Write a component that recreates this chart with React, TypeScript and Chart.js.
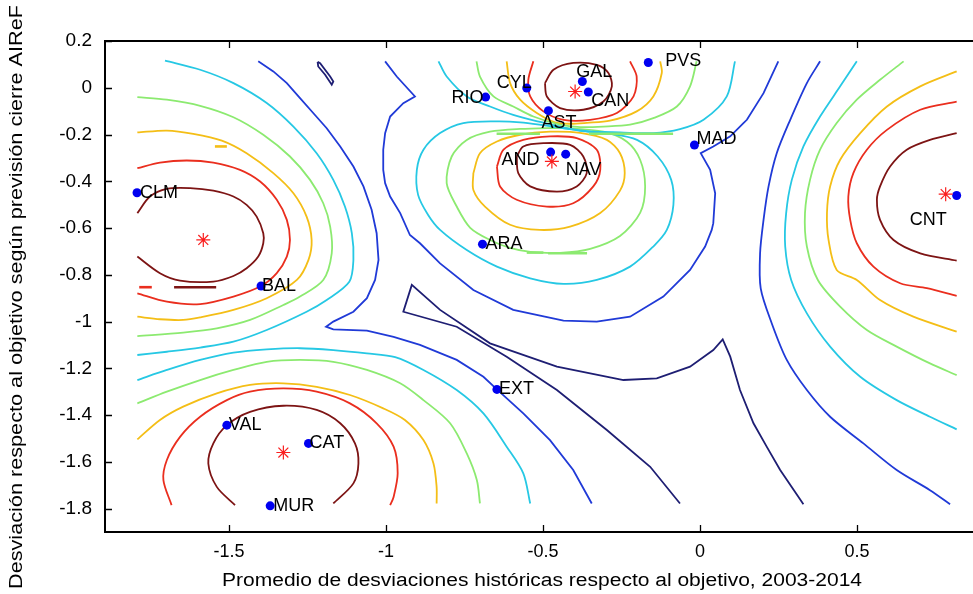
import React, { useEffect, useRef } from "react";
import { Chart, registerables } from "chart.js";

Chart.register(...registerables);

const FONT = '"Liberation Sans", Arial, Helvetica, sans-serif';

// ---------- axes ----------
const X_TICKS = [-1.5, -1, -0.5, 0, 0.5];
const Y_TICKS = [0.2, 0, -0.2, -0.4, -0.6, -0.8, -1, -1.2, -1.4, -1.6, -1.8];
const X_MIN = -1.895;
const X_MAX = 0.869;
const Y_MIN = -1.9;
const Y_MAX = 0.2;
const X_TITLE = "Promedio de desviaciones históricas respecto al objetivo, 2003-2014";
const Y_TITLE = "Desviación respecto al objetivo según previsión cierre AIReF";

// ---------- regions (blue dots) ----------
const REGIONS = ["CLM", "BAL", "VAL", "CAT", "MUR", "EXT", "ARA", "RIO", "CYL", "AST", "GAL", "CAN", "PVS", "AND", "NAV", "MAD", "CNT"];
const REGION_X = [-1.793, -1.398, -1.507, -1.247, -1.369, -0.647, -0.693, -0.683, -0.552, -0.483, -0.375, -0.356, -0.165, -0.476, -0.428, -0.018, 0.817];
const REGION_Y = [-0.449, -0.848, -1.443, -1.521, -1.788, -1.29, -0.669, -0.04, -0.001, -0.098, 0.027, -0.018, 0.108, -0.275, -0.284, -0.245, -0.461];

// ---------- cluster centres (red stars) ----------
const CENTER_X = [-1.582, -1.327, -0.398, -0.472, 0.782];
const CENTER_Y = [-0.651, -1.56, -0.016, -0.315, -0.455];

// ---------- contour lines (x, y pairs) ----------
const NAVY_LOOP = [[-1.218, 0.111], [-1.21, 0.105], [-1.178, 0.048], [-1.168, 0.027], [-1.173, 0.013], [-1.194, 0.056], [-1.216, 0.091], [-1.218, 0.111]];
const NAVY_WEDGE = [[-0.064, -1.778], [-0.159, -1.621], [-0.297, -1.464], [-0.456, -1.293], [-0.616, -1.15], [-0.775, -1.022], [-0.945, -0.958], [-0.918, -0.843], [-0.828, -0.95], [-0.669, -1.093], [-0.456, -1.193], [-0.244, -1.25], [-0.138, -1.243], [-0.032, -1.193], [0.042, -1.122], [0.072, -1.076], [0.096, -1.15], [0.127, -1.293], [0.17, -1.435], [0.212, -1.535], [0.255, -1.635], [0.329, -1.781]];

const BLUE_LEFT = [[-1.407, 0.113], [-1.359, 0.07], [-1.316, 0.02], [-1.274, -0.044], [-1.232, -0.108], [-1.189, -0.173], [-1.146, -0.251], [-1.104, -0.337], [-1.072, -0.422], [-1.046, -0.522], [-1.03, -0.622], [-1.024, -0.736], [-1.035, -0.822], [-1.061, -0.9], [-1.104, -0.958], [-1.168, -1.0], [-1.191, -1.022], [-1.168, -1.033], [-1.061, -1.039], [-0.976, -1.065], [-0.892, -1.1], [-0.775, -1.164], [-0.69, -1.236], [-0.647, -1.29], [-0.563, -1.393], [-0.478, -1.507], [-0.404, -1.635], [-0.345, -1.778]];
const BLUE_MID = [[-1.003, 0.113], [-0.966, 0.048], [-0.908, -0.037], [-0.945, -0.066], [-0.987, -0.123], [-1.003, -0.194], [-1.009, -0.265], [-1.009, -0.351], [-1.003, -0.408], [-0.987, -0.465], [-0.955, -0.536], [-0.924, -0.63], [-0.892, -0.665], [-0.828, -0.751], [-0.722, -0.865], [-0.595, -0.95], [-0.435, -0.996], [-0.329, -1.0], [-0.223, -0.979], [-0.117, -0.893], [-0.032, -0.779], [0.016, -0.679], [0.037, -0.608], [0.042, -0.579], [0.048, -0.451], [0.032, -0.351], [0.002, -0.28], [0.042, -0.251], [0.096, -0.208], [0.138, -0.151], [0.149, -0.137], [0.202, -0.023], [0.249, 0.113]];
const BLUE_RIGHT = [[0.382, 0.113], [0.34, 0.02], [0.287, -0.137], [0.244, -0.28], [0.218, -0.422], [0.202, -0.565], [0.191, -0.708], [0.193, -0.858], [0.228, -1.007], [0.276, -1.164], [0.34, -1.293], [0.414, -1.407], [0.52, -1.521], [0.626, -1.635], [0.732, -1.721], [0.796, -1.781]];

const CYAN_LEFT = [[-1.704, 0.116], [-1.592, 0.077], [-1.486, 0.02], [-1.38, -0.065], [-1.295, -0.166], [-1.221, -0.28], [-1.168, -0.394], [-1.131, -0.508], [-1.109, -0.622], [-1.104, -0.736], [-1.117, -0.83], [-1.189, -0.908], [-1.253, -0.958], [-1.38, -1.036], [-1.486, -1.086], [-1.592, -1.111], [-1.698, -1.129], [-1.792, -1.143]];
const CYAN_LOWER = [[-1.792, -1.25], [-1.698, -1.207], [-1.592, -1.164], [-1.486, -1.133], [-1.38, -1.119], [-1.274, -1.114], [-1.168, -1.122], [-1.061, -1.136], [-0.971, -1.152], [-0.881, -1.207], [-0.775, -1.293], [-0.69, -1.393], [-0.616, -1.535], [-0.563, -1.649], [-0.541, -1.778]];
const CYAN_TOP = [[-0.833, 0.113], [-0.807, 0.048], [-0.743, -0.037], [-0.669, -0.08], [-0.595, -0.116], [-0.51, -0.146], [-0.414, -0.176], [-0.35, -0.187], [-0.255, -0.191], [-0.149, -0.194], [-0.064, -0.177], [0.011, -0.137], [0.085, -0.037], [0.111, 0.113]];
const CYAN_MID = [[-0.484, -0.163], [-0.573, -0.148], [-0.647, -0.144], [-0.754, -0.151], [-0.828, -0.194], [-0.881, -0.265], [-0.902, -0.351], [-0.898, -0.458], [-0.866, -0.544], [-0.828, -0.608], [-0.743, -0.694], [-0.647, -0.765], [-0.541, -0.815], [-0.435, -0.839], [-0.329, -0.822], [-0.223, -0.765], [-0.149, -0.679], [-0.106, -0.608], [-0.085, -0.501], [-0.092, -0.394], [-0.135, -0.294], [-0.201, -0.223], [-0.287, -0.197], [-0.382, -0.184], [-0.484, -0.163]];
const CYAN_RIGHT = [[0.499, 0.113], [0.446, 0.006], [0.382, -0.123], [0.329, -0.251], [0.292, -0.394], [0.274, -0.536], [0.271, -0.679], [0.29, -0.822], [0.34, -0.965], [0.414, -1.107], [0.51, -1.236], [0.626, -1.336], [0.732, -1.407], [0.817, -1.461]];

const GREEN_LEFT = [[-1.792, -0.04], [-1.698, -0.051], [-1.592, -0.077], [-1.486, -0.126], [-1.391, -0.201], [-1.306, -0.294], [-1.242, -0.394], [-1.2, -0.494], [-1.178, -0.594], [-1.173, -0.708], [-1.2, -0.822], [-1.274, -0.893], [-1.327, -0.929], [-1.433, -0.993], [-1.539, -1.029], [-1.646, -1.047], [-1.792, -1.062]];
const GREEN_LOWER = [[-1.792, -1.35], [-1.698, -1.3], [-1.592, -1.25], [-1.486, -1.207], [-1.38, -1.172], [-1.274, -1.164], [-1.168, -1.172], [-1.061, -1.207], [-0.955, -1.264], [-0.881, -1.336], [-0.796, -1.435], [-0.743, -1.564], [-0.711, -1.678], [-0.701, -1.778]];
const GREEN_TOP = [[-0.712, 0.113], [-0.701, 0.048], [-0.658, -0.037], [-0.595, -0.08], [-0.531, -0.123], [-0.446, -0.158], [-0.382, -0.168], [-0.308, -0.166], [-0.223, -0.158], [-0.149, -0.13], [-0.074, -0.08], [-0.032, 0.006], [-0.011, 0.113]];
const GREEN_MID = [[-0.446, -0.171], [-0.573, -0.176], [-0.669, -0.188], [-0.743, -0.223], [-0.791, -0.294], [-0.807, -0.408], [-0.775, -0.508], [-0.732, -0.599], [-0.669, -0.651], [-0.605, -0.685], [-0.541, -0.702], [-0.446, -0.706], [-0.35, -0.689], [-0.255, -0.634], [-0.191, -0.535], [-0.175, -0.422], [-0.191, -0.308], [-0.233, -0.231], [-0.308, -0.188], [-0.446, -0.171]];
const GREEN_RIGHT = [[0.648, 0.113], [0.573, 0.034], [0.499, -0.051], [0.435, -0.151], [0.382, -0.265], [0.35, -0.394], [0.334, -0.536], [0.34, -0.679], [0.375, -0.822], [0.446, -0.936], [0.531, -1.036], [0.626, -1.107], [0.732, -1.179], [0.817, -1.229]];

const GOLD_LEFT = [[-1.792, -0.191], [-1.698, -0.183], [-1.614, -0.197], [-1.523, -0.226], [-1.444, -0.28], [-1.359, -0.365], [-1.295, -0.451], [-1.253, -0.551], [-1.237, -0.651], [-1.247, -0.736], [-1.284, -0.822], [-1.38, -0.9], [-1.486, -0.95], [-1.592, -0.982], [-1.646, -0.993], [-1.72, -0.99], [-1.792, -0.979]];
const GOLD_LOWER = [[-1.792, -1.504], [-1.72, -1.421], [-1.646, -1.364], [-1.539, -1.307], [-1.433, -1.271], [-1.327, -1.264], [-1.221, -1.279], [-1.115, -1.314], [-1.009, -1.371], [-0.94, -1.421], [-0.881, -1.507], [-0.849, -1.607], [-0.839, -1.707], [-0.839, -1.778]];
const GOLD_TOP = [[-0.616, 0.113], [-0.605, 0.02], [-0.573, -0.051], [-0.52, -0.108], [-0.462, -0.148], [-0.414, -0.154], [-0.361, -0.15], [-0.287, -0.141], [-0.202, -0.101], [-0.149, -0.037], [-0.122, 0.063], [-0.127, 0.113]];
const GOLD_MID = [[-0.722, -0.365], [-0.701, -0.28], [-0.647, -0.23], [-0.573, -0.201], [-0.478, -0.188], [-0.382, -0.193], [-0.297, -0.223], [-0.255, -0.28], [-0.24, -0.365], [-0.255, -0.44], [-0.318, -0.536], [-0.414, -0.594], [-0.51, -0.608], [-0.605, -0.586], [-0.685, -0.508], [-0.722, -0.437], [-0.722, -0.365]];
const GOLD_RIGHT = [[0.817, 0.07], [0.701, 0.006], [0.595, -0.08], [0.51, -0.194], [0.446, -0.308], [0.414, -0.422], [0.404, -0.536], [0.409, -0.651], [0.435, -0.779], [0.499, -0.822], [0.573, -0.908], [0.679, -0.979], [0.817, -1.043]];

const RED_LEFT = [[-1.792, -0.344], [-1.72, -0.32], [-1.635, -0.311], [-1.55, -0.32], [-1.465, -0.351], [-1.401, -0.401], [-1.348, -0.479], [-1.316, -0.565], [-1.306, -0.651], [-1.316, -0.722], [-1.348, -0.793], [-1.398, -0.848], [-1.486, -0.893], [-1.592, -0.925], [-1.698, -0.915], [-1.792, -0.879]];
const RED_LOWER = [[-1.683, -1.785], [-1.709, -1.678], [-1.698, -1.592], [-1.656, -1.493], [-1.592, -1.407], [-1.507, -1.336], [-1.433, -1.3], [-1.327, -1.286], [-1.221, -1.3], [-1.115, -1.35], [-1.03, -1.435], [-0.976, -1.535], [-0.963, -1.649], [-0.976, -1.75], [-0.987, -1.785]];
const RED_TOP = [[-0.531, 0.113], [-0.547, 0.034], [-0.541, -0.037], [-0.499, -0.101], [-0.435, -0.137], [-0.35, -0.137], [-0.265, -0.108], [-0.212, -0.037], [-0.202, 0.048], [-0.223, 0.113]];
const RED_MID = [[-0.647, -0.337], [-0.626, -0.265], [-0.563, -0.223], [-0.478, -0.208], [-0.393, -0.215], [-0.329, -0.265], [-0.318, -0.351], [-0.34, -0.422], [-0.404, -0.494], [-0.488, -0.508], [-0.584, -0.479], [-0.637, -0.422], [-0.647, -0.337]];
const RED_RIGHT = [[0.817, -0.059], [0.701, -0.094], [0.595, -0.18], [0.531, -0.265], [0.488, -0.365], [0.472, -0.465], [0.478, -0.565], [0.499, -0.665], [0.552, -0.765], [0.637, -0.836], [0.722, -0.857], [0.817, -0.89]];

const DARK_LEFT = [[-1.792, -0.536], [-1.752, -0.465], [-1.698, -0.432], [-1.624, -0.429], [-1.55, -0.44], [-1.486, -0.465], [-1.444, -0.501], [-1.412, -0.551], [-1.391, -0.622], [-1.391, -0.665], [-1.407, -0.722], [-1.444, -0.772], [-1.486, -0.805], [-1.55, -0.829], [-1.656, -0.825], [-1.72, -0.793], [-1.792, -0.722]];
const DARK_LOWER = [[-1.481, -1.785], [-1.539, -1.707], [-1.566, -1.607], [-1.55, -1.521], [-1.507, -1.443], [-1.433, -1.386], [-1.327, -1.36], [-1.221, -1.378], [-1.146, -1.435], [-1.099, -1.521], [-1.088, -1.607], [-1.104, -1.692], [-1.168, -1.778]];
const DARK_TOP = [[-0.494, 0.02], [-0.467, 0.077], [-0.404, 0.106], [-0.329, 0.098], [-0.292, 0.063], [-0.281, 0.006], [-0.308, -0.059], [-0.372, -0.094], [-0.446, -0.087], [-0.488, -0.037], [-0.494, 0.02]];
const DARK_MID = [[-0.584, -0.294], [-0.563, -0.251], [-0.499, -0.237], [-0.414, -0.244], [-0.372, -0.294], [-0.361, -0.365], [-0.393, -0.422], [-0.456, -0.444], [-0.541, -0.422], [-0.579, -0.365], [-0.584, -0.294]];
const DARK_RIGHT = [[0.817, -0.194], [0.732, -0.223], [0.658, -0.265], [0.605, -0.337], [0.573, -0.422], [0.563, -0.479], [0.573, -0.565], [0.616, -0.651], [0.701, -0.708], [0.817, -0.739]];

// short straight fragments of the contour plot
const FRAG_DARK = [[-1.675, -0.853], [-1.541, -0.853]];
const FRAG_RED = [[-1.786, -0.853], [-1.746, -0.853]];
const FRAG_GOLD = [[-1.545, -0.251], [-1.507, -0.251]];
const FRAG_GREEN_A = [[-0.648, -0.197], [-0.51, -0.197]];
const FRAG_GREEN_B = [[-0.354, -0.197], [-0.086, -0.197]];
const FRAG_GREEN_C = [[-0.552, -0.705], [-0.499, -0.705]];
const FRAG_GREEN_D = [[-0.484, -0.708], [-0.36, -0.708]];

// ---------- styles ----------
const COLORS: Record<string, string> = {
  navy: "rgb(30,30,115)",
  blue: "rgb(32,58,215)",
  cyan: "rgb(38,200,228)",
  green: "rgb(140,234,112)",
  gold: "rgb(244,190,22)",
  red: "rgb(234,46,30)",
  dark: "rgb(125,20,20)",
};

// [line, colour, smoothing]
const CONTOURS: [number[][], string, number][] = [
  [NAVY_LOOP, "navy", 0], [NAVY_WEDGE, "navy", 0],
  [BLUE_LEFT, "blue", 0], [BLUE_MID, "blue", 0], [BLUE_RIGHT, "blue", 0.3],
  [CYAN_LEFT, "cyan", 0.3], [CYAN_LOWER, "cyan", 0.3], [CYAN_TOP, "cyan", 0.3], [CYAN_MID, "cyan", 0.3], [CYAN_RIGHT, "cyan", 0.3],
  [GREEN_LEFT, "green", 0.3], [GREEN_LOWER, "green", 0.3], [GREEN_TOP, "green", 0.3], [GREEN_MID, "green", 0.3], [GREEN_RIGHT, "green", 0.3],
  [GOLD_LEFT, "gold", 0.3], [GOLD_LOWER, "gold", 0.3], [GOLD_TOP, "gold", 0.3], [GOLD_MID, "gold", 0.3], [GOLD_RIGHT, "gold", 0.3],
  [RED_LEFT, "red", 0.3], [RED_LOWER, "red", 0.3], [RED_TOP, "red", 0.3], [RED_MID, "red", 0.3], [RED_RIGHT, "red", 0.3],
  [DARK_LEFT, "dark", 0.3], [DARK_LOWER, "dark", 0.3], [DARK_TOP, "dark", 0.3], [DARK_MID, "dark", 0.3], [DARK_RIGHT, "dark", 0.3],
];
const FRAGMENTS: [number[][], string][] = [
  [FRAG_DARK, "dark"], [FRAG_RED, "red"], [FRAG_GOLD, "gold"],
  [FRAG_GREEN_A, "green"], [FRAG_GREEN_B, "green"], [FRAG_GREEN_C, "green"], [FRAG_GREEN_D, "green"],
];

// label placement relative to its dot: [dx px, dy px, align]
const LABEL_STYLE: Record<string, [number, number, CanvasTextAlign]> = {
  CLM: [3, 0, "left"], BAL: [1, 0, "left"], VAL: [2, 0, "left"], CAT: [1, 0, "left"],
  MUR: [3, 0, "left"], EXT: [2, 0, "left"], ARA: [3, 0, "left"], RIO: [-2, 1, "right"],
  CYL: [-30, -5, "left"], AST: [-7, 12, "left"], GAL: [-6, -9, "left"], CAN: [3, 9, "left"],
  PVS: [17, -1, "left"], AND: [-11, 8, "right"], NAV: [0, 16, "left"], MAD: [2, -6, "left"],
  CNT: [-10, 24, "right"],
};

const toPts = (arr: number[][]) => arr.map(([x, y]) => ({ x, y }));

// draw text stretched along its baseline so it spans the given length
function fitText(ctx: CanvasRenderingContext2D, text: string, len: number) {
  const w = ctx.measureText(text).width;
  const k = len / w;
  ctx.save();
  ctx.scale(k, 1);
  ctx.fillText(text, 0, 0);
  ctx.restore();
}

const decorPlugin = {
  id: "decor",
  afterDatasetsDraw(chart: any) {
    const { ctx, chartArea: a, scales } = chart;
    const xs = scales.x;
    const ys = scales.y;
    ctx.save();
    // frame (left, top, bottom)
    ctx.strokeStyle = "#000";
    ctx.lineWidth = 2;
    ctx.beginPath();
    ctx.moveTo(a.right + 2, a.top);
    ctx.lineTo(a.left, a.top);
    ctx.lineTo(a.left, a.bottom);
    ctx.lineTo(a.right + 2, a.bottom);
    ctx.stroke();
    // inward ticks
    ctx.lineWidth = 1.3;
    ctx.beginPath();
    X_TICKS.forEach((v) => {
      const px = Math.round(xs.getPixelForValue(v)) + 0.5;
      ctx.moveTo(px, a.bottom);
      ctx.lineTo(px, a.bottom - 7);
      ctx.moveTo(px, a.top);
      ctx.lineTo(px, a.top + 7);
    });
    Y_TICKS.forEach((v) => {
      const py = Math.round(ys.getPixelForValue(v)) + 0.5;
      ctx.moveTo(a.left, py);
      ctx.lineTo(a.left + 7, py);
    });
    ctx.stroke();
    // region labels
    ctx.fillStyle = "#000";
    ctx.font = `18px ${FONT}`;
    ctx.textBaseline = "middle";
    REGIONS.forEach((name, i) => {
      const [dx, dy, align] = LABEL_STYLE[name];
      ctx.textAlign = align;
      ctx.fillText(name, xs.getPixelForValue(REGION_X[i]) + dx, ys.getPixelForValue(REGION_Y[i]) + dy);
    });
    // axis titles
    ctx.font = `18px ${FONT}`;
    ctx.textAlign = "center";
    ctx.save();
    ctx.translate(542, 581);
    fitText(ctx, X_TITLE, 640);
    ctx.restore();
    ctx.save();
    ctx.translate(17, 297);
    ctx.rotate(-Math.PI / 2);
    fitText(ctx, Y_TITLE, 584);
    ctx.restore();
    ctx.restore();
  },
};

export default function App() {
  const ref = useRef<HTMLCanvasElement>(null);
  useEffect(() => {
    if (!ref.current) return;
    const datasets: any[] = [];
    datasets.push({
      label: "centros",
      data: CENTER_X.map((x, i) => ({ x, y: CENTER_Y[i] })),
      pointStyle: "star",
      pointRadius: 7,
      borderColor: "rgb(250,30,30)",
      backgroundColor: "rgb(250,30,30)",
      pointBorderWidth: 1.2,
      showLine: false,
      order: 0,
    });
    datasets.push({
      label: "CCAA",
      data: REGION_X.map((x, i) => ({ x, y: REGION_Y[i] })),
      pointStyle: "circle",
      pointRadius: 4.5,
      backgroundColor: "rgb(0,0,240)",
      borderWidth: 0,
      showLine: false,
      order: 0,
    });
    FRAGMENTS.forEach(([pts, c]) =>
      datasets.push({ data: toPts(pts), showLine: true, borderColor: COLORS[c], borderWidth: 2.6, pointRadius: 0, tension: 0, order: 1 })
    );
    CONTOURS.forEach(([pts, c, t]) =>
      datasets.push({ data: toPts(pts), showLine: true, borderColor: COLORS[c], borderWidth: 1.8, pointRadius: 0, tension: t, order: 1 })
    );
    const chart = new Chart(ref.current, {
      type: "scatter",
      data: { datasets },
      options: {
        animation: false,
        responsive: false,
        events: [],
        layout: { autoPadding: false, padding: { top: 41, left: 0, right: 0, bottom: 0 } },
        plugins: { legend: { display: false }, tooltip: { enabled: false } },
        scales: {
          x: {
            type: "linear",
            min: X_MIN,
            max: X_MAX,
            grid: { display: false, drawTicks: false },
            border: { display: false },
            afterBuildTicks: (s: any) => { s.ticks = X_TICKS.map((v) => ({ value: v })); },
            afterFit: (s: any) => { s.height = 62; s.paddingLeft = 0; s.paddingRight = 0; },
            ticks: { color: "#000", font: { family: FONT, size: 18 }, padding: 9, maxRotation: 0, autoSkip: false, callback: (v: any) => String(v) },
          },
          y: {
            type: "linear",
            min: Y_MIN,
            max: Y_MAX,
            grid: { display: false, drawTicks: false },
            border: { display: false },
            afterBuildTicks: (s: any) => { s.ticks = Y_TICKS.map((v) => ({ value: v })); },
            afterFit: (s: any) => { s.width = 105; s.paddingTop = 0; s.paddingBottom = 0; },
            ticks: { color: "#000", font: { family: FONT, size: 19 }, padding: 13, autoSkip: false, callback: (v: any) => String(v) },
          },
        },
      },
      plugins: [decorPlugin],
    });
    return () => chart.destroy();
  }, []);
  return (
    <div style={{ position: "absolute", left: 0, top: 0, width: 973, height: 594, background: "#fff" }}>
      <canvas ref={ref} width={973} height={594} style={{ display: "block" }} />
    </div>
  );
}
